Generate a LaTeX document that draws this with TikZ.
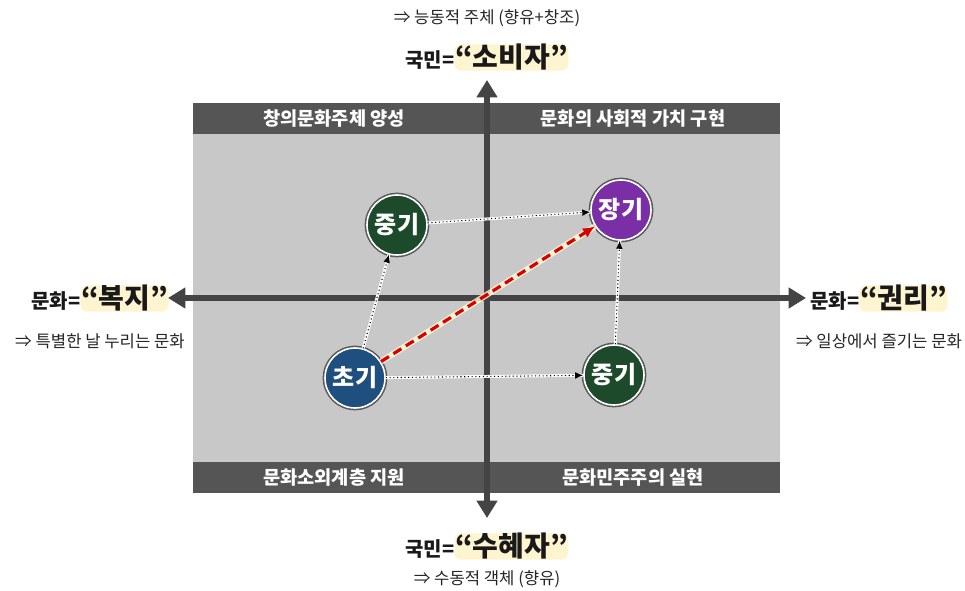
\documentclass[tikz,border=0pt]{standalone}
\usepackage{fontspec}
\setmainfont{Noto Sans CJK KR}
\usetikzlibrary{arrows.meta}
\definecolor{bargray}{HTML}{555555}
\definecolor{panelgray}{HTML}{C8C8C8}
\definecolor{axisgray}{HTML}{444444}
\definecolor{midgreen}{HTML}{1E4A2C}
\definecolor{longpurple}{HTML}{7A2FA6}
\definecolor{earlyblue}{HTML}{1F4F7E}
\definecolor{glowyellow}{HTML}{FFE27A}
\tikzset{
  x=0.75pt, y=-0.75pt,
  bartext/.style={text=white, font=\bfseries\fontsize{14}{16}\selectfont},
  stage/.style={circle, minimum size=45pt, inner sep=0pt, draw=white, line width=1.2pt,
    font=\bfseries\fontsize{18}{20}\selectfont, text=white,
    preaction={draw=gray!70!black, line width=3.5pt}},
  axis/.style={line width=5pt, draw=axisgray, -{Triangle[width=15pt,length=13pt]}},
  note/.style={font=\fontsize{12.5}{14}\selectfont, text=black!85},
  title/.style={font=\bfseries\fontsize{15}{18}\selectfont, text=black!90},
  flow/.style={dotted, line width=0.8pt, -{Latex[length=6pt,width=5pt]},
    preaction={draw=white, line width=2.2pt, solid, -}},
  redflow/.style={dashed, dash pattern=on 7pt off 4pt, draw=red!85!black, line width=2.4pt,
    -{Latex[length=9pt,width=8pt]},
    preaction={draw=white!85!yellow, line width=4.5pt, solid, -, opacity=0.8}}
}
\newcommand{\glowword}[1]{\tikz[baseline=(g.base)]{\node[inner xsep=0.5pt, inner ysep=0pt, fill=glowyellow, fill opacity=0.35, text opacity=1, rounded corners=5pt, font=\bfseries\fontsize{21}{24}\selectfont] (g) {#1};}}
\begin{document}
\begin{tikzpicture}
\useasboundingbox (0,0) rectangle (965,591);
\fill[white] (0,0) rectangle (965,591);
% panel
\fill[panelgray] (193,103) rectangle (780,493);
\fill[bargray] (193,103) rectangle (780,134);
\fill[bargray] (193,462) rectangle (780,493);
\draw[white, line width=1pt] (487,103) -- (487,134);
\draw[white, line width=1pt] (487,462) -- (487,493);
\node[bartext] (hTL) at (334,119) {창의문화주체 양성};
\node[bartext] (hTR) at (633,119) {문화의 사회적 가치 구현};
\node[bartext] (hBL) at (334,478) {문화소외계층 지원};
\node[bartext] (hBR) at (633,478) {문화민주주의 실현};
% axes
\coordinate (vTop) at (487,80);
\coordinate (vBot) at (487,518);
\coordinate (hL) at (168,298);
\coordinate (hR) at (806,298);
\coordinate (c) at (487,298);
\draw[axis] (c) -- (vTop);
\draw[axis] (c) -- (vBot);
\draw[axis] (c) -- (hL);
\draw[axis] (c) -- (hR);
% labels
\node[note] (nTop) at (487,18) {⇒ 능동적 주체 (향유+창조)};
\node[title, anchor=base] (tTop) at (487,68) {국민=\glowword{“소비자”}};
\node[title, anchor=base] (tBot) at (487,557) {국민=\glowword{“수혜자”}};
\node[note] (nBot) at (487,579) {⇒ 수동적 객체 (향유)};
\node[title, anchor=base] (tL) at (100,309) {문화=\glowword{“복지”}};
\node[note] (nL) at (100,341) {⇒ 특별한 날 누리는 문화};
\node[title, anchor=base] (tR) at (879,309) {문화=\glowword{“권리”}};
\node[note] (nR) at (879,341) {⇒ 일상에서 즐기는 문화};
% stages
\node[stage, fill=midgreen] (m1) at (397,225) {중기};
\node[stage, fill=longpurple] (l) at (621,210) {장기};
\node[stage, fill=earlyblue] (e) at (355,378) {초기};
\node[stage, fill=midgreen] (m2) at (614,375) {중기};
% flows
\draw[flow] (e) -- (m1);
\draw[flow] (m1) -- (l);
\draw[flow] (e) -- (m2);
\draw[flow] (m2) -- (l);
\draw[redflow] (e) -- (l);
\end{tikzpicture}
\end{document}
